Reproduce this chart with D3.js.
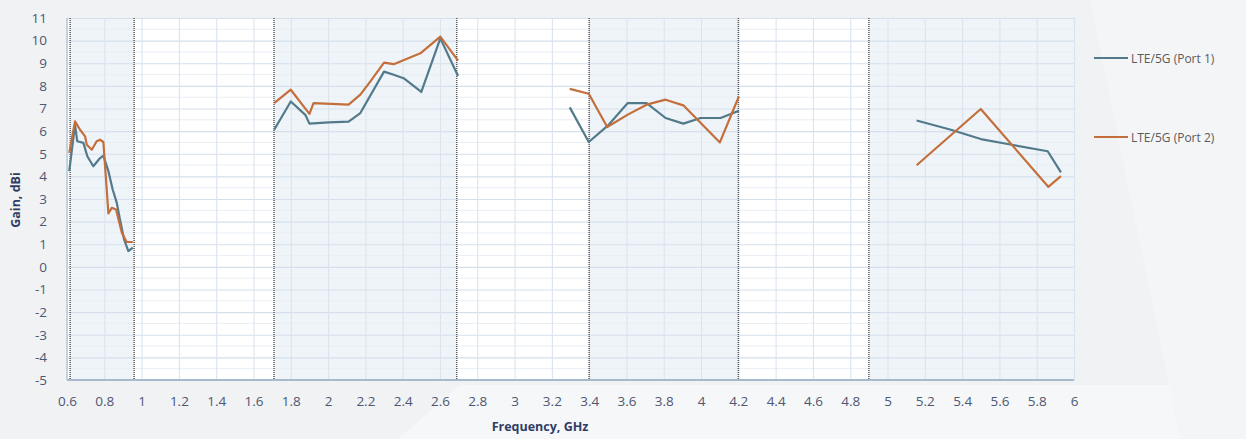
<!DOCTYPE html>
<html><head><meta charset="utf-8">
<script src="https://cdn.jsdelivr.net/npm/d3@7/dist/d3.min.js"></script>
<style>html,body{margin:0;padding:0;background:#f1f2f4;}svg{display:block;}</style>
</head><body>
<svg id="c" width="1246" height="439"></svg>
<script>
// ---- data ----
const port1Freq = [0.612,0.643,0.655,0.688,0.709,0.741,0.773,0.795,0.822,0.845,0.867,0.884,0.906,0.929,0.953,
  null,
  1.711,1.80,1.878,1.90,2.003,2.11,2.173,2.30,2.352,2.405,2.50,2.602,2.697,
  null,
  3.296,3.398,3.50,3.607,3.708,3.81,3.905,3.998,4.105,4.203,
  null,
  5.156,5.34,5.50,5.644,5.859,5.93];
const port1Gain = [4.23,6.28,5.55,5.48,4.89,4.45,4.77,4.92,4.23,3.42,2.83,2.10,1.22,0.70,0.85,
  null,
  6.06,7.31,6.72,6.33,6.39,6.42,6.80,8.63,8.49,8.34,7.73,10.10,8.44,
  null,
  7.05,5.52,6.24,7.24,7.24,6.58,6.33,6.58,6.58,6.90,
  null,
  6.47,6.06,5.65,5.43,5.11,4.18];
const port2Freq = [0.612,0.643,0.67,0.697,0.706,0.733,0.759,0.777,0.795,0.822,0.840,0.863,0.894,0.920,0.953,
  null,
  1.711,1.80,1.90,1.922,2.11,2.173,2.226,2.30,2.352,2.495,2.602,2.697,
  null,
  3.296,3.398,3.497,3.607,3.708,3.81,3.905,4.101,4.203,
  null,
  5.156,5.50,5.862,5.93];
const port2Gain = [5.04,6.43,6.06,5.77,5.40,5.18,5.55,5.62,5.52,2.36,2.61,2.54,1.51,1.10,1.10,
  null,
  7.24,7.83,6.76,7.24,7.17,7.61,8.19,9.03,8.96,9.44,10.18,9.12,
  null,
  7.87,7.65,6.18,6.73,7.17,7.39,7.14,5.50,7.53,
  null,
  4.49,6.98,3.54,4.01];
const bandStart = [0.617, 1.71, 3.4, 4.9];
const bandEnd   = [0.96, 2.69, 4.2, 6.0];
const xTicks = [0.6,0.8,1,1.2,1.4,1.6,1.8,2,2.2,2.4,2.6,2.8,3,3.2,3.4,3.6,3.8,4,4.2,4.4,4.6,4.8,5,5.2,5.4,5.6,5.8,6];
const yTicks = [-5,-4,-3,-2,-1,0,1,2,3,4,5,6,7,8,9,10,11];
const seriesNames = ["LTE/5G (Port 1)", "LTE/5G (Port 2)"];
const seriesColors = ["#527a8b", "#c46f3b"];

// ---- chart ----
const svg = d3.select("#c");
const W = 1246, H = 439;
const x = d3.scaleLinear().domain([0.6, 6]).range([67, 1074]);
const y = d3.scaleLinear().domain([-5, 11]).range([380, 18]);

// background decoration
svg.append("rect").attr("width", W).attr("height", H).attr("fill", "#f1f2f4");
svg.append("polygon").attr("points", "398,439 460,385 1246,385 1246,439").attr("fill", "#f6f7f8");
svg.append("polygon").attr("points", "1090,0 1246,0 1246,439 1180,439").attr("fill", "#f4f5f6");

// plot area
svg.append("rect").attr("x", x(0.6)).attr("y", y(11)).attr("width", x(6) - x(0.6)).attr("height", y(-5) - y(11)).attr("fill", "#ffffff");
bandStart.forEach((b, i) => {
  svg.append("rect").attr("x", x(b)).attr("y", y(11)).attr("width", x(bandEnd[i]) - x(b))
    .attr("height", y(-5) - y(11)).attr("fill", "#eff4f9");
});

// minor horizontal gridlines
const g = svg.append("g");
d3.range(-4.5, 11, 1).forEach(v => {
  g.append("line").attr("x1", x(0.6)).attr("x2", x(6)).attr("y1", y(v)).attr("y2", y(v))
    .attr("stroke", "#e8eef5").attr("stroke-width", 1);
});
// major gridlines
svg.append("g")
  .attr("transform", `translate(${x(0.6)},0)`)
  .call(d3.axisLeft(y).tickValues(yTicks).tickSize(-(x(6) - x(0.6))).tickFormat(""))
  .call(s => s.select(".domain").remove())
  .call(s => s.selectAll("line").attr("stroke", "#d5e0ec").attr("stroke-width", 1.2));
svg.append("g")
  .attr("transform", `translate(0,${y(-5)})`)
  .call(d3.axisBottom(x).tickValues(xTicks).tickSize(-(y(-5) - y(11))).tickFormat(""))
  .call(s => s.select(".domain").remove())
  .call(s => s.selectAll("line").attr("stroke", "#dae4ef").attr("stroke-width", 1.1));

// axes lines
svg.append("line").attr("x1", x(0.6)).attr("x2", x(0.6)).attr("y1", y(11)).attr("y2", y(-5)).attr("stroke", "#b9c8da").attr("stroke-width", 1.5);
svg.append("line").attr("x1", x(0.6)).attr("x2", x(6)).attr("y1", y(-5)).attr("y2", y(-5)).attr("stroke", "#a9b9cd").attr("stroke-width", 2);

// dotted band lines
const bandLines = [0.617, 0.96, 1.71, 2.69, 3.4, 4.2, 4.9];
bandLines.forEach(v => {
  svg.append("line").attr("x1", x(v)).attr("x2", x(v)).attr("y1", y(11)).attr("y2", y(-5))
    .attr("stroke", "#5a5a5a").attr("stroke-width", 1.5).attr("stroke-dasharray", "1,1");
});

// tick labels
const axY = svg.append("g").attr("transform", `translate(${x(0.6) - 17},0)`)
  .call(d3.axisLeft(y).tickValues(yTicks).tickSize(0).tickFormat(d => String(d)));
axY.select(".domain").remove();
axY.selectAll("text").attr("font-family", "Open Sans, sans-serif").attr("font-size", 13.5).attr("fill", "#4d5773");

const axX = svg.append("g").attr("transform", `translate(0,${y(-5) + 13})`)
  .call(d3.axisBottom(x).tickValues(xTicks).tickSize(0).tickFormat(d => String(d)));
axX.select(".domain").remove();
axX.selectAll("text").attr("font-family", "Open Sans, sans-serif").attr("font-size", 13.5).attr("fill", "#4d5773");

// axis titles
svg.append("text").attr("x", 540).attr("y", 431).attr("text-anchor", "middle")
  .attr("font-family", "Open Sans, sans-serif").attr("font-weight", "bold").attr("font-size", 12.5)
  .attr("fill", "#2f3d66").text("Frequency, GHz");
svg.append("text").attr("transform", `translate(20,200) rotate(-90)`).attr("text-anchor", "middle")
  .attr("font-family", "Open Sans, sans-serif").attr("font-weight", "bold").attr("font-size", 12.5)
  .attr("fill", "#2f3d66").text("Gain, dBi");

// lines
function mk(fx, gy) { return fx.map((f, i) => [f, gy[i]]); }
const line = d3.line().defined(d => d[0] !== null && d[1] !== null).x(d => x(d[0])).y(d => y(d[1]));
[mk(port1Freq, port1Gain), mk(port2Freq, port2Gain)].forEach((data, i) => {
  svg.append("path").datum(data).attr("d", line).attr("fill", "none")
    .attr("stroke", seriesColors[i]).attr("stroke-width", 2.2).attr("stroke-linejoin", "round");
});

// legend
const legY = [58, 137];
seriesNames.forEach((n, i) => {
  svg.append("line").attr("x1", 1094).attr("x2", 1128).attr("y1", legY[i]).attr("y2", legY[i])
    .attr("stroke", seriesColors[i]).attr("stroke-width", 2);
  svg.append("text").attr("x", 1131).attr("y", legY[i] + 4.5).attr("font-family", "Open Sans, sans-serif")
    .attr("font-size", 12).attr("fill", "#5a5a5a").text(n);
});
</script>
</body></html>
